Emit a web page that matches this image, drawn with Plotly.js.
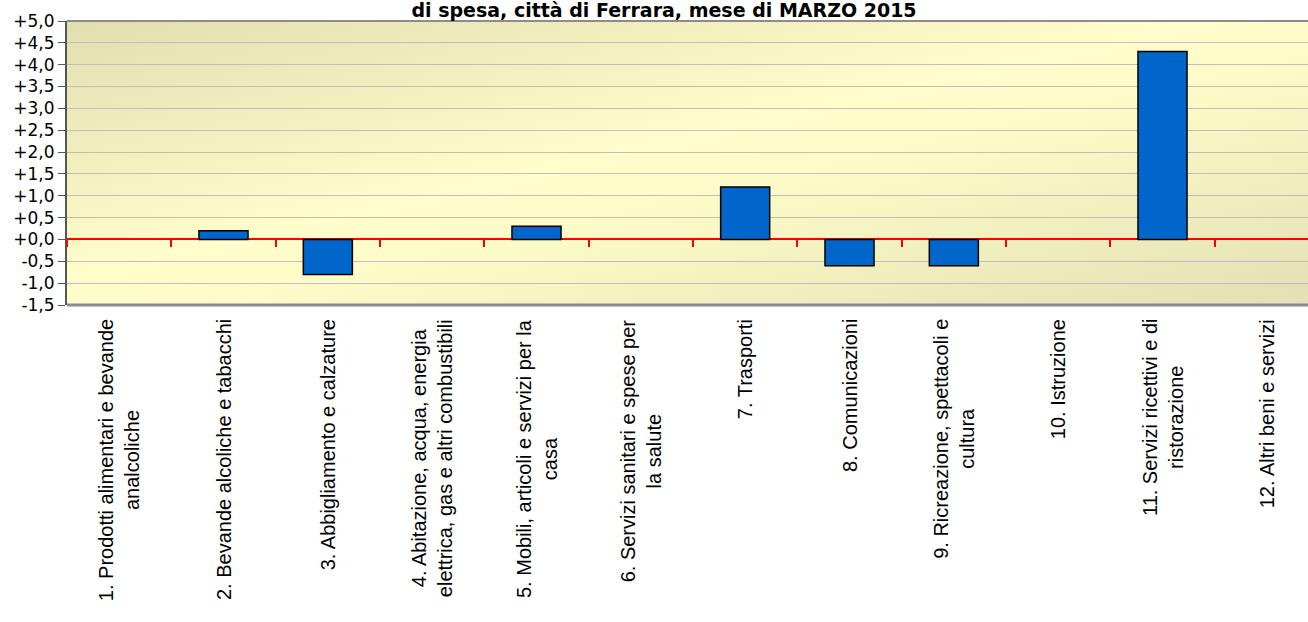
<!DOCTYPE html>
<html>
<head>
<meta charset="utf-8">
<script src="https://cdn.plot.ly/plotly-3.0.1.min.js"></script>
<style>
  html, body { margin: 0; padding: 0; overflow: hidden; background: #ffffff; }
  #chart { width: 1330px; height: 622px; }
</style>
</head>
<body>
<div id="chart"></div>
<script>
// ---- data ----
const categories = [
  "1. Prodotti alimentari e bevande<br>analcoliche",
  "2. Bevande alcoliche e tabacchi",
  "3. Abbigliamento e calzature",
  "4. Abitazione, acqua, energia<br>elettrica, gas e altri combustibili",
  "5. Mobili, articoli e servizi per la<br>casa",
  "6. Servizi sanitari e spese per<br>la salute",
  "7. Trasporti",
  "8. Comunicazioni",
  "9. Ricreazione, spettacoli e<br>cultura",
  "10. Istruzione",
  "11. Servizi ricettivi e di<br>ristorazione",
  "12. Altri beni e servizi"
];
const values = [0.0, 0.2, -0.8, 0.0, 0.3, 0.0, 1.2, -0.6, -0.6, 0.0, 4.3, 0.0];
const yTickVals = [-1.5, -1.0, -0.5, 0.0, 0.5, 1.0, 1.5, 2.0, 2.5, 3.0, 3.5, 4.0, 4.5, 5.0];
const yTickText = ["-1,5", "-1,0", "-0,5", "+0,0", "+0,5", "+1,0", "+1,5", "+2,0", "+2,5", "+3,0", "+3,5", "+4,0", "+4,5", "+5,0"];
const titleText = "di spesa, città di Ferrara, mese di MARZO 2015";

// ---- background gradient for the plot area ----
const svg = "<svg xmlns='http://www.w3.org/2000/svg' width='100' height='100' preserveAspectRatio='none'>" +
  "<defs><linearGradient id='g' x1='0' y1='0' x2='1' y2='1'>" +
  "<stop offset='0' stop-color='#E1DEB0'/>" +
  "<stop offset='0.45' stop-color='#FFFDCB'/>" +
  "<stop offset='0.58' stop-color='#FCFAC6'/>" +
  "<stop offset='1' stop-color='#E2E0B4'/>" +
  "</linearGradient></defs><rect width='100' height='100' fill='url(#g)'/></svg>";
const bgSrc = "data:image/svg+xml;charset=utf-8," + encodeURIComponent(svg);

// zero-height bars get no outline (as in the original, where they are invisible)
const outlineWidths = values.map(v => (v === 0 ? 0 : 1.5));

const trace = {
  type: "bar",
  x: categories,
  y: values,
  marker: { color: "#0066CC", line: { color: "#000000", width: outlineWidths } },
  hoverinfo: "x+y"
};

const annotations = categories.map(c => ({
  x: c, xref: "x",
  y: 0, yref: "paper",
  xanchor: "center", yanchor: "top",
  yshift: -12,
  textangle: -90,
  align: "center",
  showarrow: false,
  text: c,
  font: { family: "Liberation Sans, Arial, sans-serif", size: 20, color: "#000000" }
}));

const layout = {
  width: 1330,
  height: 622,
  margin: { l: 67, r: 11, t: 21, b: 317, pad: 0 },
  paper_bgcolor: "#ffffff",
  plot_bgcolor: "rgba(0,0,0,0)",
  showlegend: false,
  bargap: 0.53,
  title: {
    text: "<b>" + titleText + "</b>",
    font: { family: "DejaVu Sans, sans-serif", size: 19, color: "#000000" },
    xref: "container", x: 664 / 1330, xanchor: "center",
    yref: "container", y: 1 - 10 / 622, yanchor: "middle"
  },
  xaxis: {
    type: "category",
    range: [-0.5, 11.5],
    anchor: "free",
    position: 1.5 / 6.5,
    tickson: "boundaries",
    ticks: "outside",
    ticklen: 7,
    tickwidth: 2,
    tickcolor: "#FF0000",
    showticklabels: false,
    showgrid: false,
    showline: false,
    zeroline: false,
    fixedrange: true
  },
  yaxis: {
    range: [-1.5, 5],
    tickmode: "array",
    tickvals: yTickVals,
    ticktext: yTickText,
    ticks: "outside",
    ticklen: 7,
    tickwidth: 1,
    tickcolor: "#555555",
    showline: true,
    linecolor: "#555555",
    linewidth: 2,
    showgrid: true,
    gridcolor: "#BEBEBE",
    gridwidth: 1,
    zeroline: true,
    zerolinecolor: "#FF0000",
    zerolinewidth: 2,
    tickfont: { family: "DejaVu Sans, sans-serif", size: 17, color: "#000000" },
    fixedrange: true
  },
  images: [{
    source: bgSrc,
    xref: "paper", yref: "paper",
    x: 0, y: 1, sizex: 1, sizey: 1,
    xanchor: "left", yanchor: "top",
    sizing: "stretch",
    layer: "below"
  }],
  shapes: [
    { type: "line", xref: "paper", yref: "paper", x0: 0, x1: 1, y0: 1, y1: 1,
      line: { color: "#8C8C8C", width: 2 }, layer: "above" },
    { type: "line", xref: "paper", yref: "paper", x0: 0, x1: 1, y0: 0, y1: 0,
      line: { color: "#8C8C8C", width: 3 }, layer: "above" }
  ],
  annotations: annotations
};

Plotly.newPlot("chart", [trace], layout, { displayModeBar: false, staticPlot: true });
</script>
</body>
</html>
